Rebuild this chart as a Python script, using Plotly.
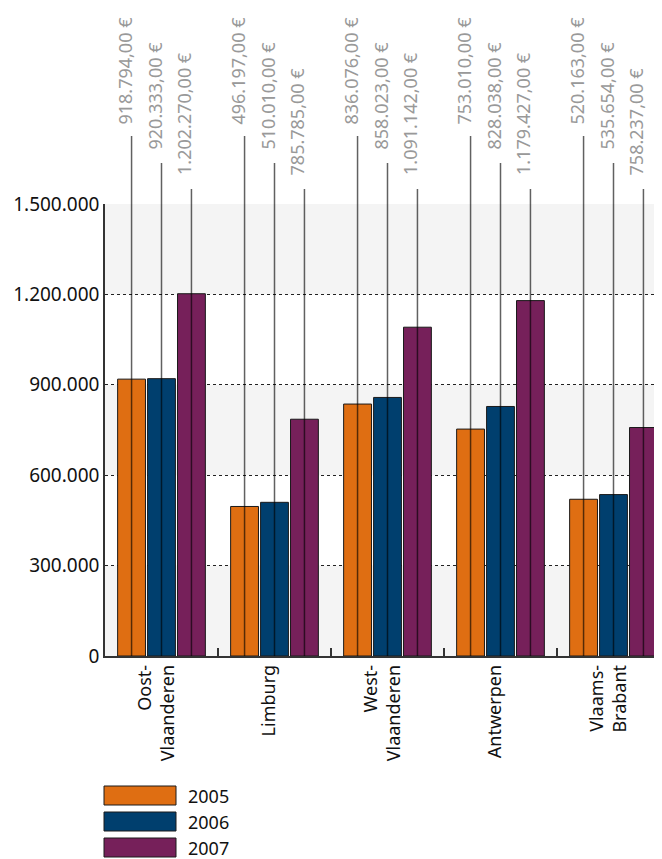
import plotly.graph_objects as go

categories = ["Oost-<br>Vlaanderen", "Limburg", "West-<br>Vlaanderen", "Antwerpen", "Vlaams-<br>Brabant"]
years = ["2005", "2006", "2007"]
v2005 = [918794, 496197, 836076, 753010, 520163]
v2006 = [920333, 510010, 858023, 828038, 535654]
v2007 = [1202270, 785785, 1091142, 1179427, 758237]
series = [v2005, v2006, v2007]
value_labels = [
    ["918.794,00 €", "496.197,00 €", "836.076,00 €", "753.010,00 €", "520.163,00 €"],
    ["920.333,00 €", "510.010,00 €", "858.023,00 €", "828.038,00 €", "535.654,00 €"],
    ["1.202.270,00 €", "785.785,00 €", "1.091.142,00 €", "1.179.427,00 €", "758.237,00 €"],
]
ytick_vals = [0, 300000, 600000, 900000, 1200000, 1500000]
ytick_text = ["0", "300.000", "600.000", "900.000", "1.200.000", "1.500.000"]
colors = ["#DF6E12", "#003F6E", "#76205A"]

OFF = 8  # default page body margin
PAGE_W, PAGE_H = 662, 859
W, H = PAGE_W - OFF, PAGE_H - OFF
# plot area in page pixels
PL, PR, PT, PB = 105, 670, 204, 656
ML = PL - OFF
MT = PT - OFF
MB = PAGE_H - PB
MR = 0
plot_h = PB - PT
plot_w = W - ML - MR
FONT = "Noto Sans"
BARGAP = 0.205
BARGROUPGAP = 0.07

def py(p):  # page pixel y -> paper y
    return (PB - p) / plot_h

def px(p):  # page pixel x -> paper x
    return (p - PL) / plot_w

fig = go.Figure()
for k, (yr, vals) in enumerate(zip(years, series)):
    fig.add_trace(go.Bar(
        x=list(range(len(categories))), y=vals, name=yr,
        marker=dict(color=colors[k], line=dict(color="#1a1a1a", width=1)),
        showlegend=False, hoverinfo="skip",
    ))

shapes = []
annotations = []
# alternating bands
for i in range(0, len(ytick_vals) - 1, 2):
    shapes.append(dict(type="rect", xref="paper", yref="y", x0=0, x1=1,
                       y0=ytick_vals[i], y1=ytick_vals[i + 1],
                       fillcolor="#f4f4f4", line=dict(width=0), layer="below"))

slot = (1 - BARGAP) / 3
line_tops = [136, 163, 189]
label_bottoms = [127, 152, 177]
for k in range(3):
    for i in range(len(categories)):
        xc = i + (k - 1) * slot
        shapes.append(dict(type="line", xref="x", yref="paper", x0=xc, x1=xc,
                           y0=0, y1=py(line_tops[k]),
                           line=dict(color="rgba(0,0,0,0.62)", width=1.5), layer="above"))
        annotations.append(dict(xref="x", yref="paper", x=xc, y=py(label_bottoms[k]),
                                text=value_labels[k][i], textangle=-90, showarrow=False,
                                xanchor="center", yanchor="bottom", xshift=-7,
                                font=dict(family=FONT, size=18, color="#999999")))

# legend
leg_top = [786, 812, 838]
for k, yr in enumerate(years):
    shapes.append(dict(type="rect", xref="paper", yref="paper",
                       x0=px(104), x1=px(176),
                       y0=py(leg_top[k]), y1=py(leg_top[k] + 19),
                       fillcolor=colors[k], line=dict(color="#1a1a1a", width=1)))
    annotations.append(dict(xref="paper", yref="paper",
                            x=px(186), y=py(leg_top[k] + 10),
                            text=yr, showarrow=False, xanchor="left", yanchor="middle",
                            font=dict(family=FONT, size=18, color="#111111")))

cat_px = 113
x_span = plot_w / cat_px

fig.update_layout(
    width=W, height=H,
    margin=dict(l=ML, r=MR, t=MT, b=MB, pad=0, autoexpand=False),
    paper_bgcolor="white", plot_bgcolor="white",
    barmode="group", bargap=BARGAP, bargroupgap=BARGROUPGAP,
    font=dict(family=FONT, size=18, color="#111111"),
    shapes=shapes, annotations=annotations,
    showlegend=False,
    xaxis=dict(range=[-0.5, -0.5 + x_span], tickvals=list(range(len(categories))),
               ticktext=categories, tickangle=-90, showgrid=False, zeroline=False,
               showline=True, linecolor="#333333", linewidth=1.5, ticklabelshift=-5,
               ticks="", tickfont=dict(family=FONT, size=18, color="#111111")),
    xaxis2=dict(overlaying="x", range=[-0.5, -0.5 + x_span], anchor="y",
                tickvals=[i + 0.5 for i in range(len(categories))], ticktext=[""] * len(categories),
                ticks="inside", ticklen=8, tickcolor="#333333", tickwidth=1.5,
                showgrid=False, zeroline=False, showline=False),
    yaxis=dict(range=[0, 1500000], tickvals=ytick_vals, ticktext=ytick_text,
               showgrid=True, gridcolor="#222222", griddash="dot", gridwidth=1,
               zeroline=False, showline=True, linecolor="#333333", linewidth=1.5,
               ticks="", tickfont=dict(family=FONT, size=19, color="#111111")),
)
fig.add_trace(go.Scatter(x=[0], y=[0], xaxis="x2", mode="markers",
                         marker=dict(opacity=0), showlegend=False, hoverinfo="skip"))

fig.write_html("out.html")
